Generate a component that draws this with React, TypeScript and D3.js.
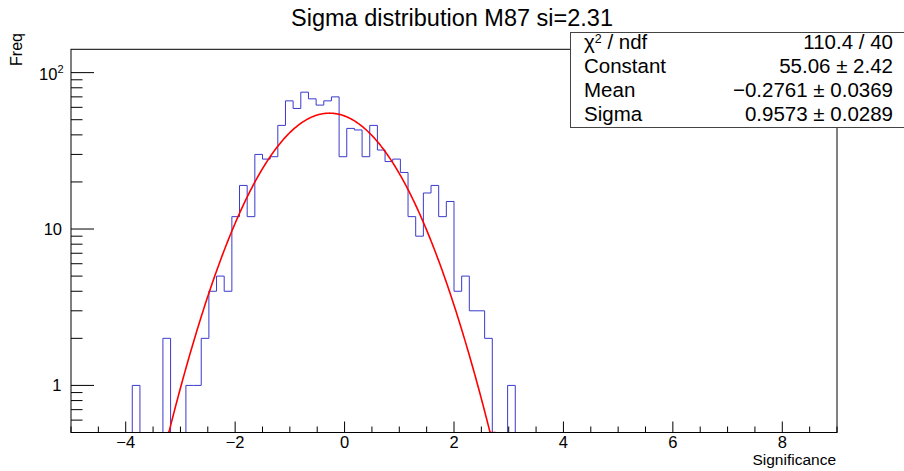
import * as d3 from "d3";

// histogram binning (100 bins from -5 to 9)
const binLow = -5;
const binWidth = 0.14;
const nBins = 100;
const firstBin = 8;
// counts of bins 8..57
const counts = [
  1, 0, 0, 0, 2, 0, 0, 1, 1, 2,
  4, 5, 4, 12, 19, 12, 30, 28, 29, 46,
  66, 59, 75, 68, 62, 66, 70, 29, 44, 43,
  29, 46, 32, 27, 28, 23, 12, 9, 17, 19,
  12, 15, 4, 5, 3, 3, 2, 0, 0, 1,
];

// gaussian fit
const fitConstant = 55.06;
const fitMean = -0.2761;
const fitSigma = 0.9573;
const fitRange = [-3.22, 2.76];

const xMajorTicks = [-4, -2, 0, 2, 4, 6, 8];
const yMajorTicks = [1, 10, 100];

const statLabels = ["ndf", "Constant", "Mean", "Sigma"];
const statValues = ["110.4 / 40", "55.06 \u00b1 2.42", "\u22120.2761 \u00b1 0.0369", "0.9573 \u00b1 0.0289"];

const title = "Sigma distribution M87 si=2.31";
const xTitle = "Significance";
const yTitle = "Freq";

const W = 904;
const H = 471;
const frame = { left: 71, right: 837, top: 49.3, bottom: 432.5 };
const font = "'Liberation Sans', Arial, Helvetica, sans-serif";

export default function App() {
  const x = d3.scaleLinear().domain([-5, 9]).range([frame.left, frame.right]);
  const y = d3.scaleLog().domain([0.5, 141]).range([frame.bottom, frame.top]);

  // step outline of the histogram
  const values = d3.range(nBins).map((k) => {
    const i = k - firstBin;
    return i >= 0 && i < counts.length ? counts[i] : 0;
  });
  const yOf = (v: number) => (v > 0 ? y(v) : frame.bottom);
  let hist = `M${x(binLow)},${frame.bottom}`;
  values.forEach((v, k) => {
    const x0 = x(binLow + k * binWidth);
    const x1 = x(binLow + (k + 1) * binWidth);
    hist += `L${x0},${yOf(v)}L${x1},${yOf(v)}`;
  });
  hist += `L${x(binLow + nBins * binWidth)},${frame.bottom}`;

  const gauss = (t: number) =>
    fitConstant * Math.exp(-((t - fitMean) ** 2) / (2 * fitSigma * fitSigma));
  const fitPts = d3
    .range(0, 401)
    .map((i) => fitRange[0] + ((fitRange[1] - fitRange[0]) * i) / 400);
  const fitLine = d3
    .line<number>()
    .x((t) => x(t))
    .y((t) => y(Math.max(gauss(t), 0.5)))(fitPts);

  const xMinor = d3.range(-5, 9.001, 0.5).filter((t) => !xMajorTicks.includes(t));
  const yMinor: number[] = [];
  [0.1, 1, 10, 100].forEach((d) => {
    for (let m = 2; m <= 9; m++) {
      const v = d * m;
      if (v >= 0.5 && v <= 141) yMinor.push(v);
    }
  });

  const fmtX = (t: number) => (t < 0 ? `\u2212${-t}` : `${t}`);

  return (
    <svg
      width={W}
      height={H}
      style={{ position: "absolute", left: 0, top: 0, background: "#fff" }}
      fontFamily={font}
    >
      <defs>
        <clipPath id="frameClip">
          <rect x={frame.left} y={frame.top} width={frame.right - frame.left} height={frame.bottom - frame.top} />
        </clipPath>
      </defs>

      {/* Histogram and fit */}
      <path d={hist} fill="none" stroke="#3a3acc" strokeWidth={1} />
      <path d={fitLine ?? ""} fill="none" stroke="#ff0000" strokeWidth={1.6} clipPath="url(#frameClip)" />

      {/* Frame */}
      <rect
        x={frame.left}
        y={frame.top}
        width={frame.right - frame.left}
        height={frame.bottom - frame.top}
        fill="none"
        stroke="#000"
        strokeWidth={1}
      />

      {/* X axis ticks */}
      {xMajorTicks.map((t) => (
        <g key={`xt${t}`}>
          <line x1={x(t)} x2={x(t)} y1={frame.bottom} y2={frame.bottom - 11} stroke="#000" />
          <text x={x(t)} y={448} fontSize={16.5} textAnchor="middle">
            {fmtX(t)}
          </text>
        </g>
      ))}
      {xMinor.map((t) => (
        <line key={`xm${t}`} x1={x(t)} x2={x(t)} y1={frame.bottom} y2={frame.bottom - 6} stroke="#000" />
      ))}
      <text x={836} y={465} fontSize={15.5} textAnchor="end">
        {xTitle}
      </text>

      {/* Y axis ticks */}
      {yMajorTicks.map((t) => (
        <line key={`yt${t}`} x1={frame.left} x2={frame.left + 23} y1={y(t)} y2={y(t)} stroke="#000" />
      ))}
      {yMinor.map((t) => (
        <line key={`ym${t}`} x1={frame.left} x2={frame.left + 11.5} y1={y(t)} y2={y(t)} stroke="#000" />
      ))}
      <text x={61.5} y={y(1) + 5.5} fontSize={16.5} textAnchor="end">
        1
      </text>
      <text x={62} y={y(10) + 5.5} fontSize={16.5} textAnchor="end">
        10
      </text>
      <text x={63.5} y={y(100) + 7} fontSize={16.5} textAnchor="end">
        10
        <tspan dy={-7} fontSize={11}>
          2
        </tspan>
      </text>
      <text transform={`translate(22,33) rotate(-90)`} fontSize={16} textAnchor="end">
        {yTitle}
      </text>

      {/* Stat box */}
      <rect x={570.5} y={32.5} width={340} height={95} fill="#fff" stroke="#444" strokeWidth={1} />
      {statLabels.map((lab, i) => (
        <g key={lab}>
          <text x={584} y={49 + i * 24} fontSize={20.5}>
            {i === 0 ? (
              <>
                {"\u03c7"}
                <tspan dy={-6.5} fontSize={12.5}>
                  2
                </tspan>
                <tspan dy={6.5}>{" / ndf"}</tspan>
              </>
            ) : (
              lab
            )}
          </text>
          <text x={893} y={49 + i * 24} fontSize={20.5} textAnchor="end">
            {statValues[i]}
          </text>
        </g>
      ))}

      {/* Title */}
      <text x={452} y={25.5} fontSize={23.5} textAnchor="middle">
        {title}
      </text>
    </svg>
  );
}
